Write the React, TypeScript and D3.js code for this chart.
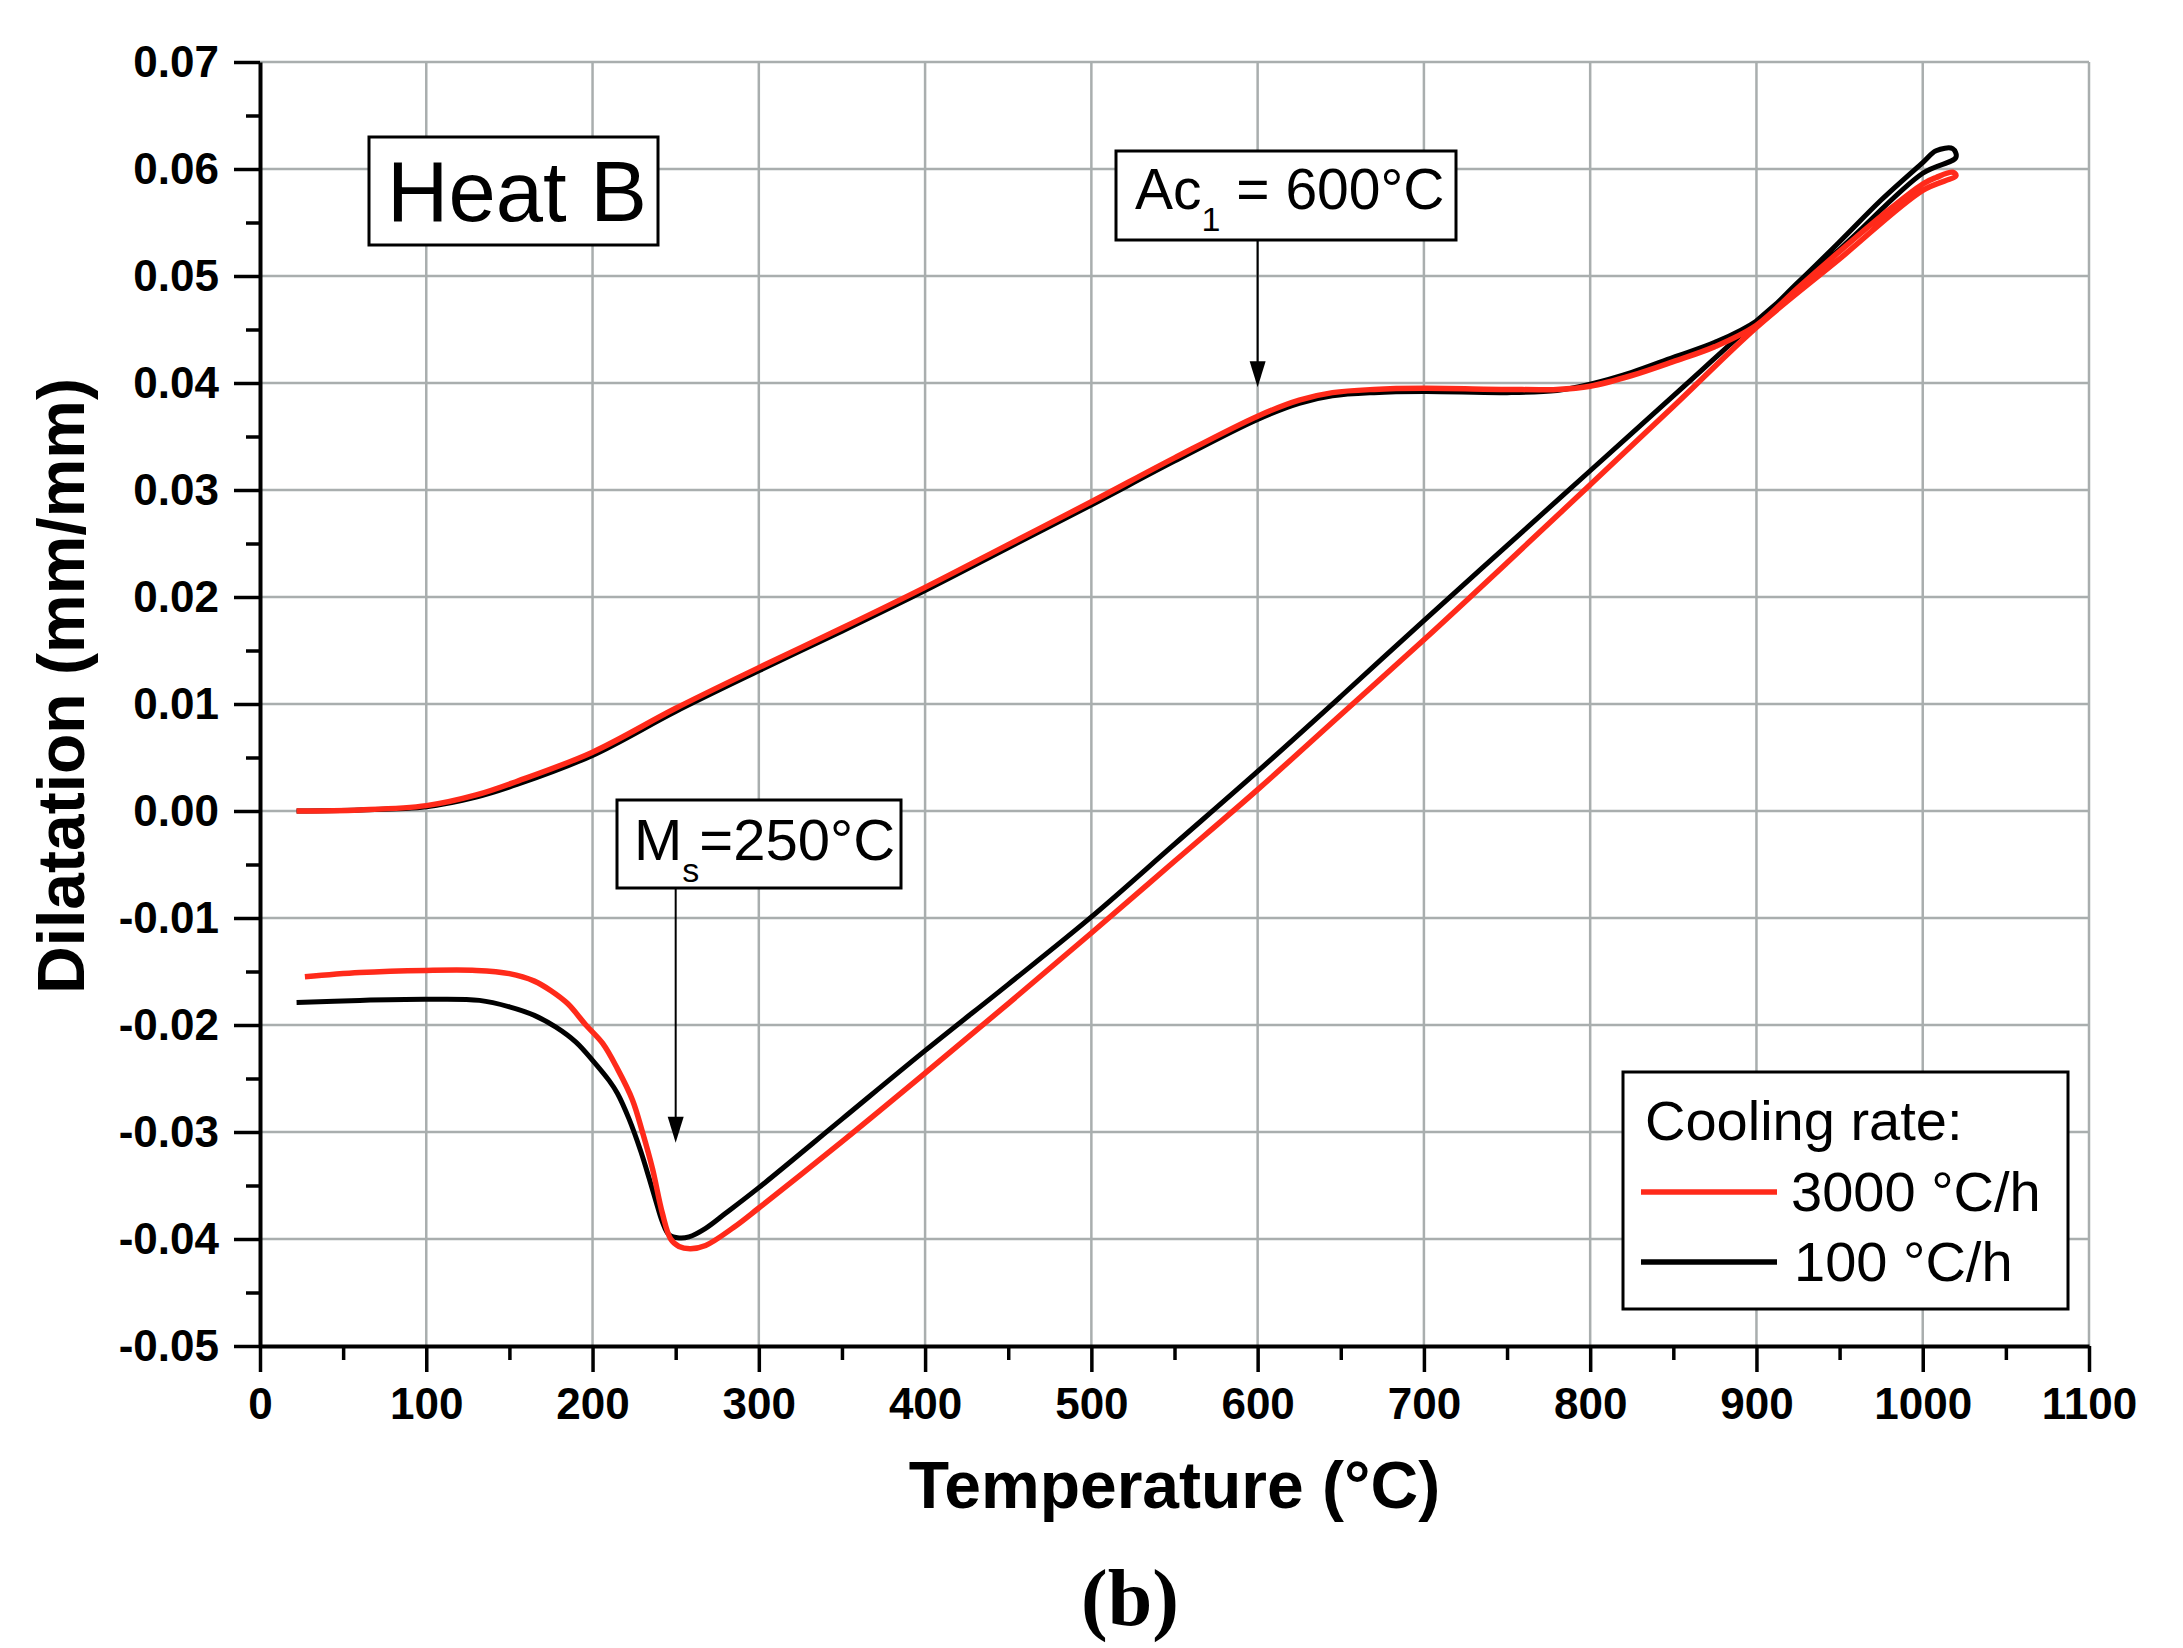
import * as d3 from "d3";
import { useEffect, useRef } from "react";

const W = 2183;
const H = 1648;
const margin = { top: 62, right: 94, bottom: 302, left: 260 };

// heating branch (shared temperatures)
const heatT = [22, 60, 100, 130, 155, 200, 250, 300, 350, 400, 450, 500, 550, 600, 625, 645, 670, 700, 750, 780, 800, 825, 850, 875, 900, 925, 950, 975, 1000, 1008, 1018];
const heatBlack = [0, 0.0001, 0.0004, 0.0013, 0.0025, 0.0052, 0.0093, 0.0131, 0.0168, 0.0206, 0.0246, 0.0286, 0.0327, 0.0366, 0.0381, 0.0388, 0.0391, 0.0392, 0.0391, 0.0393, 0.0399, 0.041, 0.0424, 0.0438, 0.0458, 0.0494, 0.0532, 0.0571, 0.0606, 0.0617, 0.0619];
const heatRed = [0, 0.0001, 0.0005, 0.0015, 0.0028, 0.0055, 0.0096, 0.0134, 0.0171, 0.0209, 0.0249, 0.0289, 0.033, 0.0369, 0.0384, 0.0391, 0.0394, 0.0395, 0.0394, 0.0394, 0.0397, 0.0407, 0.042, 0.0434, 0.0454, 0.0489, 0.0523, 0.0556, 0.0586, 0.0592, 0.0597];

// cooling branch, 100 °C/h
const coolBlackT = [1020, 1000, 950, 900, 850, 800, 750, 700, 650, 600, 550, 500, 450, 400, 350, 300, 280, 268, 258, 252, 246, 242, 238, 234, 229, 222, 215, 210, 200, 190, 178, 165, 150, 132, 100, 60, 22];
const coolBlack = [0.0611, 0.0596, 0.0525, 0.0458, 0.0388, 0.0318, 0.0248, 0.0178, 0.0107, 0.0037, -0.0031, -0.0099, -0.0162, -0.0224, -0.0288, -0.0352, -0.0376, -0.039, -0.0398, -0.0399, -0.0396, -0.0384, -0.0364, -0.0343, -0.0318, -0.0288, -0.0264, -0.0252, -0.0233, -0.0216, -0.0202, -0.0191, -0.0183, -0.0177, -0.0176, -0.0177, -0.0179];

// cooling branch, 3000 °C/h
const coolRedT = [1020, 1000, 950, 900, 850, 800, 750, 700, 650, 600, 550, 500, 450, 400, 350, 300, 285, 268, 259, 252, 247, 242, 236, 230, 224, 215, 206, 196, 185, 175, 165, 150, 130, 100, 60, 27];
const coolRed = [0.0594, 0.058, 0.0516, 0.0452, 0.0378, 0.0305, 0.0232, 0.016, 0.009, 0.002, -0.0047, -0.0114, -0.018, -0.0245, -0.0309, -0.0371, -0.0389, -0.0406, -0.0409, -0.0407, -0.04, -0.0376, -0.0334, -0.03, -0.027, -0.0241, -0.0217, -0.02, -0.018, -0.0168, -0.0159, -0.0152, -0.0149, -0.0149, -0.0151, -0.0155];

const xTicks = [0, 100, 200, 300, 400, 500, 600, 700, 800, 900, 1000, 1100];
const xMinor = [50, 150, 250, 350, 450, 550, 650, 750, 850, 950, 1050];
const yTicks = [-0.05, -0.04, -0.03, -0.02, -0.01, 0, 0.01, 0.02, 0.03, 0.04, 0.05, 0.06, 0.07];
const yMinor = [-0.045, -0.035, -0.025, -0.015, -0.005, 0.005, 0.015, 0.025, 0.035, 0.045, 0.055, 0.065];
const legendLabels = ["3000 °C/h", "100 °C/h"];
const colors = ["#ff2a1a", "#000000"];

const SANS = "'Liberation Sans', Arial, sans-serif";

export default function App() {
  const ref = useRef<SVGSVGElement>(null);

  useEffect(() => {
    const root = d3.select(ref.current);
    root.selectAll("*").remove();
    const svg = root.append("g");

    const x = d3.scaleLinear().domain([0, 1100]).range([margin.left, W - margin.right]);
    const y = d3.scaleLinear().domain([-0.05, 0.07]).range([H - margin.bottom, margin.top]);

    // grid
    const grid = svg.append("g").attr("stroke", "#a9aeae").attr("stroke-width", 2.5);
    grid
      .selectAll(".gx")
      .data(xTicks.filter((d) => d > 0))
      .enter()
      .append("line")
      .attr("x1", (d) => x(d))
      .attr("x2", (d) => x(d))
      .attr("y1", y(0.07))
      .attr("y2", y(-0.05));
    grid
      .selectAll(".gy")
      .data(yTicks.filter((d) => d > -0.05))
      .enter()
      .append("line")
      .attr("x1", x(0))
      .attr("x2", x(1100))
      .attr("y1", (d) => y(d))
      .attr("y2", (d) => y(d));

    // curves
    const line = d3
      .line<[number, number]>()
      .x((d) => x(d[0]))
      .y((d) => y(d[1]))
      .curve(d3.curveCatmullRom.alpha(0.5));

    const blackPts: [number, number][] = [
      ...heatT.map((t, i) => [t, heatBlack[i]] as [number, number]),
      ...coolBlackT.map((t, i) => [t, coolBlack[i]] as [number, number]),
    ];
    const redPts: [number, number][] = [
      ...heatT.map((t, i) => [t, heatRed[i]] as [number, number]),
      ...coolRedT.map((t, i) => [t, coolRed[i]] as [number, number]),
    ];
    svg
      .append("path")
      .attr("d", line(blackPts))
      .attr("fill", "none")
      .attr("stroke", colors[1])
      .attr("stroke-width", 5)
      .attr("stroke-linejoin", "round");
    svg
      .append("path")
      .attr("d", line(redPts))
      .attr("fill", "none")
      .attr("stroke", colors[0])
      .attr("stroke-width", 5.5)
      .attr("stroke-linejoin", "round");

    // axes
    const xAxis = svg
      .append("g")
      .attr("transform", `translate(0, ${y(-0.05)})`)
      .call(
        d3.axisBottom(x).tickValues(xTicks).tickSize(26).tickSizeOuter(0).tickPadding(16).tickFormat((d) => String(d))
      );
    const yAxis = svg
      .append("g")
      .attr("transform", `translate(${x(0)}, 0)`)
      .call(
        d3
          .axisLeft(y)
          .tickValues(yTicks)
          .tickSize(26)
          .tickSizeOuter(0)
          .tickPadding(15)
          .tickFormat((d) => (+d).toFixed(2))
      );
    [xAxis, yAxis].forEach((g) => {
      g.attr("font-family", SANS).attr("font-size", 44).attr("font-weight", "bold");
      g.select(".domain").attr("stroke-width", 4);
      g.selectAll(".tick line").attr("stroke-width", 3.5);
    });
    const xm = svg
      .append("g")
      .attr("transform", `translate(0, ${y(-0.05)})`)
      .call(d3.axisBottom(x).tickValues(xMinor).tickSize(14).tickFormat(() => ""));
    const ym = svg
      .append("g")
      .attr("transform", `translate(${x(0)}, 0)`)
      .call(d3.axisLeft(y).tickValues(yMinor).tickSize(14).tickFormat(() => ""));
    [xm, ym].forEach((g) => {
      g.select(".domain").remove();
      g.selectAll(".tick line").attr("stroke-width", 3.5);
    });

    // axis titles
    svg
      .append("text")
      .attr("x", (x(0) + x(1100)) / 2)
      .attr("y", 1508)
      .attr("text-anchor", "middle")
      .attr("font-family", SANS)
      .attr("font-weight", "bold")
      .attr("font-size", 66)
      .text("Temperature (°C)");
    svg
      .append("text")
      .attr("transform", `translate(84, ${(y(0.07) + y(-0.05)) / 2 - 18}) rotate(-90)`)
      .attr("text-anchor", "middle")
      .attr("font-family", SANS)
      .attr("font-weight", "bold")
      .attr("font-size", 66)
      .text("Dilatation (mm/mm)");

    // Heat B box
    svg
      .append("rect")
      .attr("x", 369)
      .attr("y", 137)
      .attr("width", 289)
      .attr("height", 108)
      .attr("fill", "#fff")
      .attr("stroke", "#000")
      .attr("stroke-width", 3);
    svg
      .append("text")
      .attr("x", 387)
      .attr("y", 221)
      .attr("font-family", SANS)
      .attr("font-size", 85)
      .text("Heat B");

    // annotation arrows
    const arrow = (t: number, y0: number, tipVal: number) => {
      const ax = x(t);
      const ty = y(tipVal);
      svg.append("line").attr("x1", ax).attr("x2", ax).attr("y1", y0).attr("y2", ty - 20).attr("stroke", "#000").attr("stroke-width", 2);
      svg
        .append("path")
        .attr("d", `M${ax},${ty} L${ax - 8},${ty - 26} L${ax + 8},${ty - 26} Z`)
        .attr("fill", "#000");
    };

    // Ac1 box
    svg
      .append("rect")
      .attr("x", 1116)
      .attr("y", 151)
      .attr("width", 340)
      .attr("height", 89)
      .attr("fill", "#fff")
      .attr("stroke", "#000")
      .attr("stroke-width", 3);
    const ac = svg.append("text").attr("x", 1135).attr("y", 209).attr("font-family", SANS).attr("font-size", 57);
    ac.append("tspan").text("Ac");
    ac.append("tspan").attr("font-size", 34).attr("dy", 22).text("1");
    ac.append("tspan").attr("dy", -22).text(" = 600°C");
    arrow(600, 240, 0.0396);

    // Ms box
    svg
      .append("rect")
      .attr("x", 617)
      .attr("y", 800)
      .attr("width", 284)
      .attr("height", 88)
      .attr("fill", "#fff")
      .attr("stroke", "#000")
      .attr("stroke-width", 3);
    const ms = svg.append("text").attr("x", 634).attr("y", 860).attr("font-family", SANS).attr("font-size", 58);
    ms.append("tspan").text("M");
    ms.append("tspan").attr("font-size", 34).attr("dy", 22).text("s");
    ms.append("tspan").attr("dy", -22).text("=250°C");
    arrow(250, 888, -0.031);

    // legend
    svg
      .append("rect")
      .attr("x", 1623)
      .attr("y", 1072)
      .attr("width", 445)
      .attr("height", 237)
      .attr("fill", "#fff")
      .attr("stroke", "#000")
      .attr("stroke-width", 3);
    svg
      .append("text")
      .attr("x", 1645)
      .attr("y", 1140)
      .attr("font-family", SANS)
      .attr("font-size", 56)
      .text("Cooling rate:");
    legendLabels.forEach((lab, i) => {
      const ly = 1192 + i * 70;
      svg
        .append("line")
        .attr("x1", 1641)
        .attr("x2", 1777)
        .attr("y1", ly)
        .attr("y2", ly)
        .attr("stroke", colors[i])
        .attr("stroke-width", 5.5);
      svg
        .append("text")
        .attr("x", 1791 + i * 3)
        .attr("y", ly + 19)
        .attr("font-family", SANS)
        .attr("font-size", 56)
        .text(lab);
    });

    // panel label
    svg
      .append("text")
      .attr("x", 1130)
      .attr("y", 1625)
      .attr("text-anchor", "middle")
      .attr("font-family", "'Liberation Serif', 'Times New Roman', serif")
      .attr("font-weight", "bold")
      .attr("font-size", 80)
      .text("(b)");
  }, []);

  return (
    <div style={{ position: "absolute", left: 0, top: 0, width: W, height: H, background: "#fff" }}>
      <svg ref={ref} width={W} height={H} style={{ display: "block" }} />
    </div>
  );
}
